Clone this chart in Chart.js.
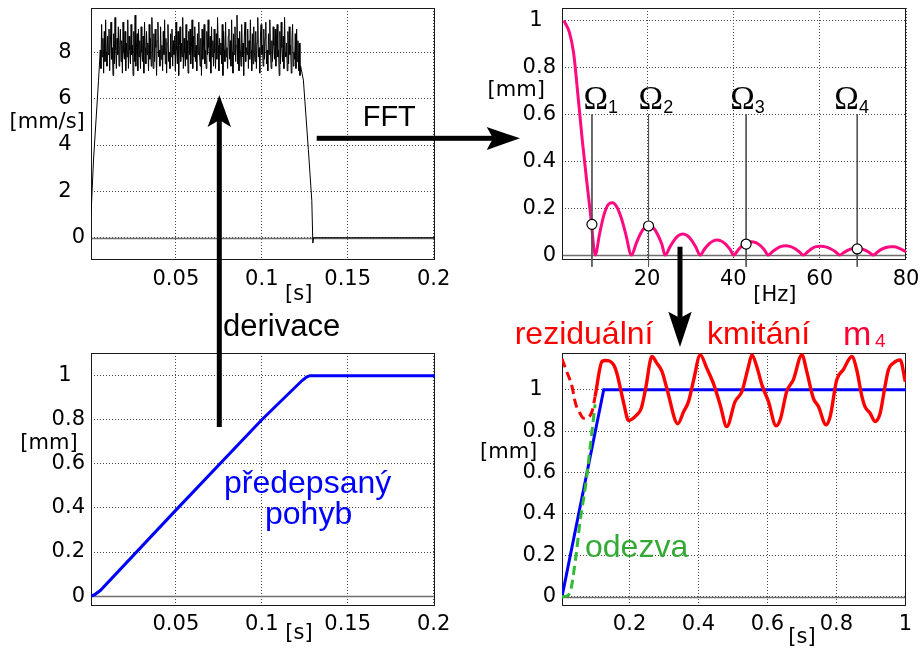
<!DOCTYPE html>
<html lang="cs">
<head>
<meta charset="utf-8">
<title>Reziduální kmitání</title>
<script src="https://cdn.jsdelivr.net/npm/chart.js@4.4.1/dist/chart.umd.min.js"></script>
<style>
  html, body { margin: 0; padding: 0; background: #fff; }
  #sheet { position: relative; width: 921px; height: 649px; overflow: hidden; background: #fff; }
  #sheet canvas, #sheet svg { position: absolute; }
  .txt { position: absolute; white-space: nowrap; line-height: 1; }
  .unit { font-family: 'DejaVu Sans', sans-serif; font-size: 21px; color: #000; }
  .note { font-family: 'Liberation Sans', Arial, sans-serif; font-size: 32px; }
</style>
</head>
<body>
<div id="sheet">
  <canvas id="velocity" width="460" height="320" style="left:0;top:0;width:460px;height:320px"></canvas>
  <canvas id="spectrum" width="461" height="320" style="left:460px;top:0;width:461px;height:320px"></canvas>
  <canvas id="position" width="460" height="319" style="left:0;top:330px;width:460px;height:319px"></canvas>
  <canvas id="response" width="461" height="319" style="left:460px;top:330px;width:461px;height:319px"></canvas>

  <svg width="921" height="649" viewBox="0 0 921 649" style="left:0;top:0">
    <g fill="#000">
      <!-- derivace -->
      <rect x="216.8" y="118" width="5" height="309"/>
      <polygon points="219.3,95 231,127 219.3,120 207.6,127"/>
      <!-- FFT -->
      <rect x="316.7" y="135.8" width="178" height="5"/>
      <polygon points="520,138.3 486.7,127 493,138.3 486.7,150"/>
      <!-- spectrum -> response -->
      <rect x="677.5" y="246.7" width="5" height="72"/>
      <polygon points="680,347 668.3,311.7 680,318 691.7,311.7"/>
    </g>
  </svg>

  <div class="txt unit" style="left:9.5px;top:110.5px">[mm/s]</div>
  <div class="txt unit" style="left:285px;top:283px">[s]</div>
  <div class="txt unit" style="left:487.6px;top:79px">[mm]</div>
  <div class="txt unit" style="left:753.3px;top:284px">[Hz]</div>
  <div class="txt unit" style="left:20.3px;top:431.5px">[mm]</div>
  <div class="txt unit" style="left:285.3px;top:621.5px">[s]</div>
  <div class="txt unit" style="left:480px;top:440.5px">[mm]</div>
  <div class="txt unit" style="left:788.3px;top:625.5px">[s]</div>

  <div class="txt note" style="left:362.7px;top:102.2px;font-size:29px;color:#000">FFT</div>
  <div class="txt note" style="left:223px;top:310.2px;font-size:31px;color:#000">derivace</div>
  <div class="txt note" style="left:224px;top:466px;color:#0000ff">předepsaný</div>
  <div class="txt note" style="left:265px;top:497px;color:#0000ff">pohyb</div>
  <div class="txt note" style="left:514.7px;top:317px;color:#ff0000">reziduální</div>
  <div class="txt note" style="left:707px;top:317px;color:#ff0000">kmitání</div>
  <div class="txt note" style="left:843px;top:316.2px;font-size:34px;color:#ff0033">m</div>
  <div class="txt note" style="left:875px;top:330.6px;font-size:19px;color:#ff0033">4</div>
  <div class="txt note" style="left:585px;top:530px;color:#33aa33">odezva</div>
</div>

<script>
// ---- velocity record [s], [mm/s] ----
const velRampUpT = [0.0006, 0.0021, 0.005];
const velRampUpV = [1.0, 3.4, 6.8];
const velNoiseStart = 0.006;
const velNoiseStep = 0.00039;
const velNoise = [
  8.1, 7.3, 9.2, 7.8, 8.6, 7.1, 8.9, 7.6, 9.4, 8.0,
  7.4, 8.7, 7.9, 9.0, 7.2, 8.4, 9.3, 7.7, 8.2, 7.0,
  8.8, 7.5, 9.5, 8.1, 7.3, 8.6, 7.9, 9.1, 7.4, 8.3,
  9.0, 7.6, 8.5, 7.1, 9.3, 8.0, 7.7, 8.9, 7.2, 8.4,
  7.8, 9.4, 7.3, 8.7, 8.1, 7.5, 9.2, 7.9, 8.3, 7.0,
  8.9, 7.6, 9.6, 7.4, 8.2, 8.8, 7.2, 9.0, 7.8, 8.5,
  7.3, 9.1, 8.0, 7.6, 8.7, 7.1, 9.3, 8.2, 7.5, 8.9,
  7.9, 8.4, 7.2, 9.2, 7.7, 8.6, 7.4, 9.5, 8.0, 7.3,
  8.8, 7.6, 9.0, 8.2, 7.0, 8.5, 9.3, 7.8, 8.1, 7.4,
  9.1, 7.7, 8.3, 7.2, 8.9, 7.9, 9.4, 7.5, 8.6, 7.1,
  8.4, 9.2, 7.6, 8.0, 7.3, 8.8, 7.8, 9.0, 7.4, 8.5,
  7.9, 8.7, 7.2, 9.3, 8.1, 7.5, 8.9, 7.0, 8.3, 9.1,
  7.6, 8.4, 7.8, 9.5, 7.3, 8.6, 8.0, 7.4, 9.2, 7.7,
  8.5, 7.1, 8.9, 7.9, 9.0, 7.5, 8.2, 9.4, 7.3, 8.7,
  7.8, 9.1, 7.6, 8.3, 7.2, 8.8, 7.9, 9.3, 8.0, 7.4,
  8.6, 7.0, 9.0, 7.7, 8.4, 9.2, 7.5, 8.1, 7.3, 8.9,
  7.9, 9.4, 8.2, 7.6, 8.7, 7.1, 9.1, 7.8, 8.5, 7.4,
  9.0, 8.0, 7.3, 8.8, 7.7, 9.5, 8.3, 7.2, 8.6, 7.9,
  8.4, 7.5, 9.2, 7.0, 8.9, 8.1, 7.6, 9.3, 7.8, 8.2,
  7.3, 8.7, 9.0, 7.7, 8.5, 7.4, 9.4, 8.0, 7.1, 8.8,
  7.9, 9.1, 7.6, 8.3, 9.6, 7.5, 8.6, 7.2, 8.9, 8.1,
  7.4, 9.2, 7.8, 8.4, 7.0, 8.7, 9.3, 7.6, 8.2, 7.9,
  9.0, 7.3, 8.5, 7.7, 9.4, 8.1, 7.2, 8.8, 7.5, 9.1,
  8.0, 7.6, 8.9, 7.3, 8.4, 9.5, 7.8, 8.2, 7.1, 8.7,
  9.2, 7.9, 8.3, 7.4, 9.0, 7.7, 8.6, 9.3, 7.5, 8.1,
  7.2, 8.8, 7.9, 9.4, 8.0, 7.3, 8.5, 7.6, 9.1, 8.3,
  7.7, 9.0, 7.4, 8.6, 9.2, 7.8, 8.1, 7.0, 8.9, 7.5,
  9.3, 8.2, 7.6, 8.7, 7.3, 9.5, 8.0, 7.8, 8.4, 7.2,
  8.9, 7.5, 9.1, 7.9, 8.3, 7.1, 8.6, 9.2, 7.4, 8.0,
  7.7, 8.8, 7.3, 9.0, 7.6, 8.5, 7.2, 8.4, 7.0, 7.4
];
const velRampDownT = [0.1242, 0.1271, 0.1291, 0.1297, 0.1302, 0.2008];
const velRampDownV = [6.8, 3.8, 1.6, -0.23, 0, 0];

// ---- amplitude spectrum [Hz], [mm] ----
const fftHz = [
  0.7, 1, 2, 3, 4, 5, 6, 7, 8,
  9, 10, 11, 12, 13, 14, 15, 16.4,
  17.5, 18.5, 19.5, 20.4, 21.4, 22.4, 23.4, 24.2,
  25.3, 26.3, 27.3, 28.3, 29.3, 30.3, 31.3, 32.3,
  33.3, 34.3, 35.3, 36.2, 37.2, 38.2, 39.2, 40.1,
  41.1, 42.1, 43.1, 44.2, 45.2, 46.2, 47.2, 48.1,
  49.1, 50.1, 51.1, 52.1, 53.1, 54.2, 55.2, 56.2,
  57.3, 58.3, 59.2, 60.3, 61.4, 62.5, 63.6, 64.6,
  65.6, 66.6, 67.6, 68.5, 69.5, 70.5, 71.5, 72.4,
  73.4, 74.4, 75.4, 76.4, 77.3, 78.3, 79.2, 80
];
const fftAmp = [
  1.0, 0.99, 0.95, 0.86, 0.68, 0.49, 0.32, 0.16, 0,
  0.09, 0.17, 0.215, 0.223, 0.205, 0.16, 0.095, 0,
  0.05, 0.092, 0.118, 0.126, 0.118, 0.09, 0.048, 0,
  0.034, 0.064, 0.083, 0.09, 0.083, 0.064, 0.034, 0,
  0.025, 0.047, 0.06, 0.064, 0.06, 0.047, 0.025, 0,
  0.022, 0.041, 0.053, 0.057, 0.053, 0.041, 0.022, 0,
  0.015, 0.028, 0.037, 0.040, 0.037, 0.028, 0.015, 0,
  0.015, 0.029, 0.036, 0.038, 0.035, 0.027, 0.015, 0,
  0.011, 0.021, 0.028, 0.030, 0.028, 0.021, 0.011, 0,
  0.013, 0.025, 0.032, 0.035, 0.035, 0.030, 0.022, 0.014
];
// natural frequencies Ω1..Ω4 marked on the spectrum
const omegaHz = [7.24, 20.35, 42.96, 68.7];
const omegaAmp = [0.131, 0.124, 0.047, 0.026];

// ---- prescribed motion [s], [mm] ----
const posT = [0.0006, 0.003, 0.006, 0.05, 0.1, 0.1233, 0.126, 0.128, 0.2008];
const posY = [0, 0.008, 0.025, 0.39, 0.80, 0.977, 0.994, 1.0, 1.0];

// ---- response of mass m4 [s], [mm] ----
const rampT = [0.004, 0.125, 1.002];
const rampY = [0, 1, 1];
const odezvaT = [0.004, 0.015, 0.028, 0.043, 0.057, 0.072, 0.086, 0.096, 0.1];
const odezvaY = [0, 0.002, 0.024, 0.178, 0.371, 0.532, 0.726, 0.871, 0.93];
const residBackT = [0.004, 0.015, 0.033, 0.043, 0.055, 0.067, 0.081, 0.092, 0.1];
const residBackY = [1.15, 1.10, 1.016, 0.936, 0.89, 0.863, 0.868, 0.9, 0.968];
const residT = [
  0.1, 0.12, 0.13, 0.154, 0.163, 0.183, 0.197, 0.221, 0.234, 0.246,
  0.265, 0.279, 0.294, 0.308, 0.340, 0.357, 0.371, 0.386, 0.405, 0.424,
  0.443, 0.463, 0.482, 0.506, 0.526, 0.545, 0.555, 0.569, 0.584, 0.603,
  0.625, 0.637, 0.656, 0.675, 0.700, 0.714, 0.733, 0.748, 0.770, 0.782,
  0.801, 0.820, 0.845, 0.859, 0.874, 0.883, 0.898, 0.912, 0.927, 0.941,
  0.951, 0.965, 0.985, 1.0
];
const residY = [
  0.968, 1.137, 1.142, 1.121, 1.081, 0.936, 0.852, 0.879, 0.911, 1.0,
  1.161, 1.129, 1.089, 1.008, 0.836, 0.895, 0.943, 1.048, 1.169, 1.105,
  1.032, 0.927, 0.822, 0.943, 0.992, 1.113, 1.169, 1.113, 1.024, 0.943,
  0.826, 0.855, 0.992, 1.048, 1.169, 1.089, 0.96, 0.919, 0.831, 0.871,
  1.048, 1.097, 1.161, 1.097, 0.968, 0.919, 0.887, 0.847, 0.887, 1.016,
  1.097, 1.129, 1.145, 1.04
];

// ---- tick values ----
const timeTicksShort = [0.05, 0.1, 0.15, 0.2];
const timeTicksLong = [0.2, 0.4, 0.6, 0.8, 1];
const hzTicks = [20, 40, 60, 80];
const velTicks = [0, 2, 4, 6, 8];
const mmTicks = [0, 0.2, 0.4, 0.6, 0.8, 1];

const pts = (xs, ys) => xs.map((x, i) => ({ x, y: ys[i] }));

const velPoints = [
  ...pts(velRampUpT, velRampUpV),
  ...velNoise.map((v, i) => ({ x: velNoiseStart + i * velNoiseStep, y: v })),
  ...pts(velRampDownT, velRampDownV)
];

Chart.defaults.animation = false;
Chart.defaults.events = [];
Chart.defaults.plugins.legend.display = false;
Chart.defaults.plugins.tooltip.enabled = false;
Chart.defaults.color = '#000';

const tickFont = { family: "'DejaVu Sans', sans-serif", size: 21 };
// whole numbers other than zero sit a bit further from the axis
const yLabel = v => (Number.isInteger(v) && v !== 0) ? v + '\u2007' : String(v);

// box around the plot plus a solid line at zero
const framePlugin = {
  id: 'frame',
  beforeDatasetsDraw(chart) {
    const { ctx, chartArea: a, scales: { y } } = chart;
    ctx.save();
    const y0 = Math.round(y.getPixelForValue(0)) + 0.5;
    ctx.strokeStyle = '#6e6e6e';
    ctx.lineWidth = 1.5;
    ctx.beginPath();
    ctx.moveTo(a.left, y0);
    ctx.lineTo(a.right, y0);
    ctx.stroke();
    ctx.strokeStyle = '#1a1a1a';
    ctx.lineWidth = 1;
    ctx.strokeRect(Math.round(a.left) + 0.5, Math.round(a.top) + 0.5,
      Math.round(a.right - a.left) - 1, Math.round(a.bottom - a.top) - 1);
    ctx.restore();
  }
};

// Ω1..Ω4 captions above the marker lines
const omegaLabels = {
  id: 'omegaLabels',
  afterDatasetsDraw(chart, args, opts) {
    const { ctx, scales: { x, y } } = chart;
    ctx.save();
    ctx.fillStyle = '#000';
    ctx.textBaseline = 'alphabetic';
    const py = y.getPixelForValue(opts.level);
    opts.at.forEach((hz, i) => {
      const px = x.getPixelForValue(hz);
      ctx.font = "33px 'Liberation Serif', serif";
      ctx.fillText('\u03A9', px, py);
      const w = ctx.measureText('\u03A9').width;
      ctx.font = "18px 'Liberation Sans', sans-serif";
      ctx.fillText(String(i + 1), px + w, py + 4);
    });
    ctx.restore();
  }
};

function makeScales(o) {
  return {
    x: {
      type: 'linear', min: o.xMin, max: o.xMax,
      afterBuildTicks: s => { s.ticks = o.xTicks.map(v => ({ value: v })); },
      afterFit: s => { s.height = o.xHeight; s.paddingLeft = 0; s.paddingRight = 0; },
      ticks: { autoSkip: false, maxRotation: 0, minRotation: 0, padding: o.xPad, font: tickFont, color: '#000', callback: v => String(v) },
      grid: { color: '#4a4a4a', lineWidth: 1, drawTicks: false },
      border: { display: false, dash: [1, 2] }
    },
    y: {
      type: 'linear', min: o.yMin, max: o.yMax,
      afterBuildTicks: s => { s.ticks = o.yTicks.map(v => ({ value: v })); },
      afterFit: s => { s.width = o.yWidth; s.paddingTop = 0; s.paddingBottom = 0; },
      ticks: { autoSkip: false, padding: 6, font: tickFont, color: '#000', callback: yLabel },
      grid: { color: '#4a4a4a', lineWidth: 1, drawTicks: false },
      border: { display: false, dash: [1, 2] }
    }
  };
}

function baseOptions(o, padTop, padRight) {
  return {
    responsive: false,
    devicePixelRatio: 1,
    layout: { padding: { top: padTop, right: padRight, left: 0, bottom: 0 } },
    elements: { point: { radius: 0 }, line: { tension: 0 } },
    scales: makeScales(o)
  };
}

// velocity (derivative of the prescribed motion)
new Chart(document.getElementById('velocity'), {
  type: 'line',
  data: {
    datasets: [{ data: velPoints, borderColor: '#000', borderWidth: 1, pointRadius: 0 }]
  },
  options: baseOptions({
    xMin: 0.0006, xMax: 0.2008, xTicks: timeTicksShort, xHeight: 60, xPad: 7,
    yMin: -0.96, yMax: 9.91, yTicks: velTicks, yWidth: 91
  }, 8, 25),
  plugins: [framePlugin]
});

// amplitude spectrum
new Chart(document.getElementById('spectrum'), {
  type: 'line',
  data: {
    datasets: [
      {
        data: pts(omegaHz, omegaAmp), showLine: false, pointRadius: 5,
        pointBackgroundColor: '#fff', pointBorderColor: '#000', pointBorderWidth: 1.2, order: 0
      },
      ...omegaHz.map(f => ({
        data: [{ x: f, y: 0.6 }, { x: f, y: -0.05 }],
        borderColor: '#555', borderWidth: 1, pointRadius: 0, clip: false, order: 1
      })),
      {
        data: pts(fftHz, fftAmp), borderColor: '#ff0a80', borderWidth: 3,
        pointRadius: 0, cubicInterpolationMode: 'monotone', order: 2
      }
    ]
  },
  options: Object.assign(baseOptions({
    xMin: 0.3, xMax: 80, xTicks: hzTicks, xHeight: 60, xPad: 7,
    yMin: -0.021, yMax: 1.053, yTicks: mmTicks, yWidth: 102
  }, 8, 15), {
    plugins: { omegaLabels: { at: [5.3, 18.05, 39.3, 63.4], level: 0.623 } }
  }),
  plugins: [framePlugin, omegaLabels]
});

// prescribed motion
new Chart(document.getElementById('position'), {
  type: 'line',
  data: {
    datasets: [{ data: pts(posT, posY), borderColor: '#0000ff', borderWidth: 3, pointRadius: 0 }]
  },
  options: baseOptions({
    xMin: 0.0006, xMax: 0.2008, xTicks: timeTicksShort, xHeight: 43, xPad: 6,
    yMin: -0.045, yMax: 1.103, yTicks: mmTicks, yWidth: 91
  }, 23, 25),
  plugins: [framePlugin]
});

// response of m4 with residual vibration
new Chart(document.getElementById('response'), {
  type: 'line',
  data: {
    datasets: [
      { data: pts(residT, residY), borderColor: '#ff0000', borderWidth: 3.4, pointRadius: 0, cubicInterpolationMode: 'monotone', order: 0 },
      { data: pts(residBackT, residBackY), borderColor: '#ff0000', borderWidth: 3, borderDash: [9, 5], pointRadius: 0, cubicInterpolationMode: 'monotone', order: 1 },
      { data: pts(odezvaT, odezvaY), borderColor: '#33bb33', borderWidth: 3, borderDash: [9, 5], pointRadius: 0, cubicInterpolationMode: 'monotone', order: 2 },
      { data: pts(rampT, rampY), borderColor: '#0000ff', borderWidth: 3, pointRadius: 0, order: 3 }
    ]
  },
  options: baseOptions({
    xMin: 0.004, xMax: 1.002, xTicks: timeTicksLong, xHeight: 43, xPad: 6,
    yMin: -0.045, yMax: 1.178, yTicks: mmTicks, yWidth: 102
  }, 23, 15),
  plugins: [framePlugin]
});
</script>
</body>
</html>
